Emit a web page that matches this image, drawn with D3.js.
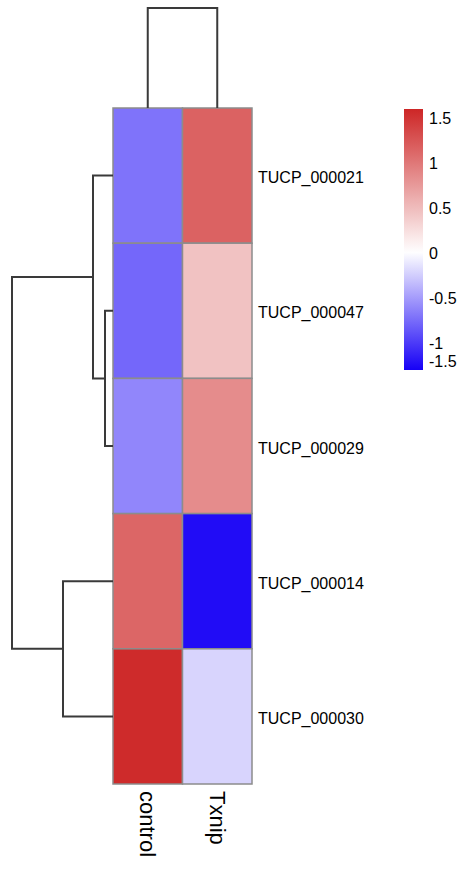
<!DOCTYPE html>
<meta charset="utf-8">
<style>
body {margin: 0; background: white;}
text {font-family: "Liberation Sans", Arial, sans-serif; fill: #000;}
.cell {stroke: #8c8c8c; stroke-width: 1.5px;}
.tree {fill: none; stroke: #3a3a3a; stroke-width: 2px;}
</style>
<body>
<script src="https://d3js.org/d3.v7.min.js"></script>
<script>
var width = 467, height = 874

// data
var rowNames = ["TUCP_000021", "TUCP_000047", "TUCP_000029", "TUCP_000014", "TUCP_000030"]
var colNames = ["control", "Txnip"]
var controlVals = [-0.72, -0.78, -0.62, 1.12, 1.55]
var txnipVals = [1.15, 0.45, 0.84, -1.25, -0.22]
// hclust style merges: negative = leaf index (1-based), positive = earlier merge
var rowMerge = [[-2, -3, 0.08], [-1, 1, 0.20], [-4, -5, 0.50], [2, 3, 1.01]]
var colMerge = [[-1, -2, 1.0]]
var legendTicks = [1.5, 1, 0.5, 0, -0.5, -1, -1.5]
var legendRange = [-1.31, 1.59]

var svg = d3.select("body").append("svg")
  .attr("width", width).attr("height", height)

var x = d3.scaleBand().domain(colNames).range([113, 252])
var y = d3.scaleBand().domain(rowNames).range([108, 784])
var color = d3.scaleLinear()
  .domain([legendRange[0], 0, legendRange[1]])
  .range(["#1600f6", "#ffffff", "#cd2626"]).clamp(true)

var cells = []
rowNames.forEach(function(r, i) {
  cells.push({row: r, col: colNames[0], v: controlVals[i]})
  cells.push({row: r, col: colNames[1], v: txnipVals[i]})
})

svg.selectAll(".cell").data(cells).enter().append("rect")
  .attr("class", "cell")
  .attr("x", d => x(d.col)).attr("y", d => y(d.row))
  .attr("width", x.bandwidth()).attr("height", y.bandwidth())
  .attr("fill", d => color(d.v))

// row labels
svg.selectAll(".rlab").data(rowNames).enter().append("text")
  .attr("x", 258).attr("y", d => y(d) + y.bandwidth() / 2 + 2)
  .attr("dy", "0.35em").style("font-size", "16px").text(d => d)

// column labels
svg.selectAll(".clab").data(colNames).enter().append("text")
  .attr("transform", d => "translate(" + (x(d) + x.bandwidth() / 2) + ",791) rotate(90)")
  .attr("dy", "0.35em").style("font-size", "22px").text(d => d)

// dendrograms
function tree(merge, leafPos, hScale, horizontal) {
  var nodes = []
  function pos(id) {
    return id < 0 ? {p: leafPos[-id - 1], h: 0} : nodes[id - 1]
  }
  merge.forEach(function(m) {
    var a = pos(m[0]), b = pos(m[1]), h = m[2]
    nodes.push({p: (a.p + b.p) / 2, h: h})
    var pts = [[a.h, a.p], [h, a.p], [h, b.p], [b.h, b.p]]
    var line = d3.line()
      .x(d => horizontal ? hScale(d[0]) : d[1])
      .y(d => horizontal ? d[1] : hScale(d[0]))
    svg.append("path").attr("class", "tree").attr("d", line(pts))
  })
}
var rowLeaf = rowNames.map(d => y(d) + y.bandwidth() / 2)
var colLeaf = colNames.map(d => x(d) + x.bandwidth() / 2)
tree(rowMerge, rowLeaf, d3.scaleLinear().domain([0, 1.01]).range([113, 12]), true)
tree(colMerge, colLeaf, d3.scaleLinear().domain([0, 1.0]).range([108, 8]), false)

// legend
var ly = d3.scaleLinear().domain(legendRange).range([370, 109]).clamp(true)
var grad = svg.append("defs").append("linearGradient")
  .attr("id", "lg").attr("x1", 0).attr("x2", 0).attr("y1", 1).attr("y2", 0)
d3.range(0, 1.0001, 0.05).forEach(function(t) {
  var v = legendRange[0] + t * (legendRange[1] - legendRange[0])
  grad.append("stop").attr("offset", t).attr("stop-color", color(v))
})
svg.append("rect").attr("x", 404).attr("y", ly(legendRange[1]))
  .attr("width", 19).attr("height", ly(legendRange[0]) - ly(legendRange[1]))
  .attr("fill", "url(#lg)")
svg.selectAll(".ltick").data(legendTicks).enter().append("text")
  .attr("x", 429)
  .attr("y", d => d < legendRange[0] ? ly(d) - 3 : ly(d) + 1)
  .attr("dy", d => d < legendRange[0] ? "0" : "0.35em")
  .style("font-size", "16px")
  .text(d => d)
</script>
